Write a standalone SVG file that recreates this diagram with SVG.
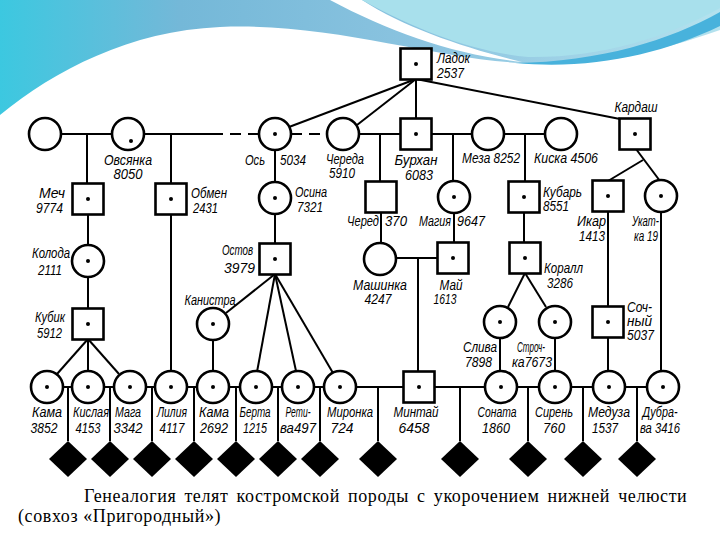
<svg xmlns="http://www.w3.org/2000/svg" width="720" height="540" viewBox="0 0 720 540">
<defs>
<linearGradient id="bgL" x1="0" y1="0" x2="1" y2="0">
<stop offset="0" stop-color="#3cc8e0"/>
<stop offset="0.25" stop-color="#74b8d8"/>
<stop offset="0.6" stop-color="#8cc4e0"/>
<stop offset="1" stop-color="#b4e2ee"/>
</linearGradient>
<style>
.n{fill:#fff;stroke:#000;stroke-width:2.6}
.d{fill:#000}
.c line,.c path{stroke:#000;stroke-width:2;fill:none}
.dash{stroke-dasharray:11 7}
.t{font-family:"Liberation Sans",Arial,sans-serif;font-style:italic;font-size:15px;fill:#000}
.m{text-anchor:middle}
.e{text-anchor:end}
.cap{font-family:"Liberation Serif","DejaVu Serif",serif;font-size:18px;letter-spacing:0.6px;fill:#000}
.dia{fill:#000}
</style>
</defs>
<rect width="720" height="540" fill="#fff"/>
<g id="banner">
<path d="M0,0 H720 V30 C650,55 585,66 520,63 C430,58 330,22 220,27 C130,31 55,70 0,115 Z" fill="url(#bgL)"/>
<path d="M330,0 C390,32 455,55 522,62 C465,48 405,28 362,0 Z" fill="#fff"/>
<path d="M362,0 C420,32 475,52 528,57 C600,58 665,38 720,8 V0 Z" fill="#a8e0ec"/>
<path d="M515,63 C600,62 670,40 720,12 V26 C660,55 590,70 515,63 Z" fill="#48b2dc"/>
</g>
<g id="connectors" class="c">
<line x1="61" y1="134" x2="112" y2="134"/>
<line x1="87" y1="134" x2="87" y2="184"/>
<line x1="144" y1="134" x2="212" y2="134"/>
<line x1="171" y1="134" x2="171" y2="372"/>
<line x1="212" y1="134" x2="259" y2="134" class="dash"/>
<line x1="291" y1="134" x2="327" y2="134" class="dash"/>
<line x1="359" y1="134" x2="401" y2="134"/>
<line x1="380" y1="134" x2="380" y2="182"/>
<line x1="431" y1="134" x2="472" y2="134"/>
<line x1="453" y1="134" x2="453" y2="182"/>
<line x1="504" y1="134" x2="545" y2="134"/>
<line x1="525" y1="134" x2="525" y2="182"/>
<line x1="416" y1="79" x2="289" y2="127"/>
<line x1="416" y1="79" x2="357" y2="125"/>
<line x1="416" y1="79" x2="416" y2="119"/>
<line x1="416" y1="79" x2="620" y2="119"/>
<line x1="636" y1="149" x2="660" y2="181"/>
<line x1="643" y1="160" x2="608" y2="181"/>
<line x1="275" y1="150" x2="275" y2="182"/>
<line x1="275" y1="214" x2="275" y2="244"/>
<line x1="88" y1="214" x2="88" y2="245"/>
<line x1="88" y1="277" x2="88" y2="309"/>
<line x1="381" y1="212" x2="381" y2="243"/>
<line x1="454" y1="213" x2="454" y2="243"/>
<line x1="396" y1="258" x2="438" y2="258"/>
<line x1="418" y1="258" x2="418" y2="372"/>
<line x1="524" y1="212" x2="524" y2="243"/>
<line x1="525" y1="273" x2="508" y2="307"/>
<line x1="525" y1="273" x2="546" y2="307"/>
<line x1="608" y1="211" x2="608" y2="307"/>
<line x1="608" y1="337" x2="608" y2="371"/>
<line x1="661" y1="212" x2="661" y2="371"/>
<line x1="88" y1="339" x2="57" y2="374"/>
<line x1="88" y1="339" x2="88" y2="371"/>
<line x1="88" y1="339" x2="119" y2="374"/>
<line x1="213" y1="340" x2="213" y2="371"/>
<line x1="275" y1="274" x2="226" y2="313"/>
<line x1="275" y1="274" x2="257" y2="372"/>
<line x1="275" y1="274" x2="296" y2="371"/>
<line x1="275" y1="274" x2="333" y2="373"/>
<line x1="500" y1="338" x2="500" y2="371"/>
<line x1="555" y1="338" x2="555" y2="371"/>
<line x1="63" y1="387" x2="647" y2="387"/>
<path d="M68,387V441 M110,387V441 M152,387V441 M194,387V441 M236,387V441 M278,387V441 M320,387V441 M378,387V441 M460,387V441 M528,387V441 M583,387V441 M637,387V441"/>
</g>
<g id="ladok"><rect class="n" x="400.5" y="48.5" width="31" height="31"/><circle class="d" cx="416" cy="64" r="2"/><text class="t" x="437" y="63" textLength="33" lengthAdjust="spacingAndGlyphs">Ладок</text><text class="t" x="437" y="78" textLength="27" lengthAdjust="spacingAndGlyphs">2537</text></g>
<g id="p1"><circle class="n" cx="45" cy="134" r="16"/></g>
<g id="ovsyanka"><circle class="n" cx="128" cy="134" r="16"/><circle class="d" cx="131" cy="141" r="2"/><text class="t m" x="128" y="165" textLength="48" lengthAdjust="spacingAndGlyphs">Овсянка</text><text class="t m" x="128" y="179" textLength="29" lengthAdjust="spacingAndGlyphs">8050</text></g>
<g id="os"><circle class="n" cx="275" cy="134" r="16"/><circle class="d" cx="275" cy="134" r="2"/><text class="t e" x="265" y="165" textLength="20" lengthAdjust="spacingAndGlyphs">Ось</text><text class="t" x="280" y="165" textLength="26" lengthAdjust="spacingAndGlyphs">5034</text></g>
<g id="chereda"><circle class="n" cx="343" cy="134" r="16"/><text class="t m" x="345" y="164" textLength="38" lengthAdjust="spacingAndGlyphs">Череда</text><text class="t m" x="342" y="178" textLength="26" lengthAdjust="spacingAndGlyphs">5910</text></g>
<g id="burkhan"><rect class="n" x="400.5" y="118.5" width="31" height="31"/><circle class="d" cx="416" cy="134" r="2"/><text class="t m" x="416" y="165" textLength="43" lengthAdjust="spacingAndGlyphs">Бурхан</text><text class="t m" x="419" y="180" textLength="28" lengthAdjust="spacingAndGlyphs">6083</text></g>
<g id="meza"><circle class="n" cx="488" cy="134" r="16"/><text class="t m" x="491" y="163" textLength="58" lengthAdjust="spacingAndGlyphs">Меза 8252</text></g>
<g id="kiska"><circle class="n" cx="561" cy="134" r="16"/><text class="t m" x="566" y="163" textLength="64" lengthAdjust="spacingAndGlyphs">Киска 4506</text></g>
<g id="kardash"><rect class="n" x="619.5" y="118.5" width="31" height="31"/><circle class="d" cx="635" cy="134" r="2"/><text class="t m" x="636" y="112" textLength="43" lengthAdjust="spacingAndGlyphs">Кардаш</text></g>
<g id="mech"><rect class="n" x="72.5" y="183.5" width="31" height="31"/><circle class="d" cx="88" cy="199" r="2"/><text class="t e" x="65" y="198" textLength="26" lengthAdjust="spacingAndGlyphs">Меч</text><text class="t e" x="63" y="213" textLength="27" lengthAdjust="spacingAndGlyphs">9774</text></g>
<g id="obmen"><rect class="n" x="155.5" y="183.5" width="31" height="31"/><circle class="d" cx="171" cy="199" r="2"/><text class="t" x="191" y="198" textLength="36" lengthAdjust="spacingAndGlyphs">Обмен</text><text class="t" x="193" y="213" textLength="25" lengthAdjust="spacingAndGlyphs">2431</text></g>
<g id="osina"><circle class="n" cx="275" cy="198" r="16"/><circle class="d" cx="275" cy="198" r="2"/><text class="t" x="295" y="197" textLength="32" lengthAdjust="spacingAndGlyphs">Осина</text><text class="t" x="297" y="212" textLength="26" lengthAdjust="spacingAndGlyphs">7321</text></g>
<g id="chered"><rect class="n" x="365.5" y="181.5" width="31" height="31"/><text class="t e" x="379" y="226" textLength="32" lengthAdjust="spacingAndGlyphs">Черед</text><text class="t" x="385" y="226" textLength="22" lengthAdjust="spacingAndGlyphs">370</text></g>
<g id="magiya"><circle class="n" cx="454" cy="197" r="16"/><circle class="d" cx="454" cy="197" r="2"/><text class="t e" x="451" y="226" textLength="32" lengthAdjust="spacingAndGlyphs">Магия</text><text class="t" x="457" y="226" textLength="28" lengthAdjust="spacingAndGlyphs">9647</text></g>
<g id="kubar"><rect class="n" x="508.5" y="181.5" width="31" height="31"/><circle class="d" cx="524" cy="197" r="2"/><text class="t" x="543" y="197" textLength="39" lengthAdjust="spacingAndGlyphs">Кубарь</text><text class="t" x="543" y="211" textLength="26" lengthAdjust="spacingAndGlyphs">8551</text></g>
<g id="ikar"><rect class="n" x="592.5" y="180.5" width="31" height="31"/><circle class="d" cx="608" cy="196" r="2"/><text class="t e" x="606" y="226" textLength="29" lengthAdjust="spacingAndGlyphs">Икар</text><text class="t e" x="605" y="241" textLength="26" lengthAdjust="spacingAndGlyphs">1413</text></g>
<g id="ukatka"><circle class="n" cx="661" cy="196" r="16"/><circle class="d" cx="661" cy="196" r="2"/><text class="t e" x="659" y="226" textLength="27" lengthAdjust="spacingAndGlyphs">Укат-</text><text class="t e" x="658" y="241" textLength="24" lengthAdjust="spacingAndGlyphs">ка 19</text></g>
<g id="koloda"><circle class="n" cx="88" cy="261" r="16"/><circle class="d" cx="88" cy="261" r="2"/><text class="t e" x="70" y="258" textLength="38" lengthAdjust="spacingAndGlyphs">Колода</text><text class="t e" x="62" y="275" textLength="24" lengthAdjust="spacingAndGlyphs">2111</text></g>
<g id="ostov"><rect class="n" x="259.5" y="243.5" width="31" height="31"/><circle class="d" cx="275" cy="259" r="2"/><text class="t e" x="253" y="255" textLength="31" lengthAdjust="spacingAndGlyphs">Остов</text><text class="t e" x="255" y="273" textLength="31" lengthAdjust="spacingAndGlyphs">3979</text></g>
<g id="mashinka"><circle class="n" cx="380" cy="259" r="16"/><text class="t m" x="380" y="290" textLength="54" lengthAdjust="spacingAndGlyphs">Машинка</text><text class="t m" x="378" y="304" textLength="27" lengthAdjust="spacingAndGlyphs">4247</text></g>
<g id="may"><rect class="n" x="437.5" y="242.5" width="31" height="31"/><circle class="d" cx="453" cy="258" r="2"/><text class="t m" x="451" y="290" textLength="23" lengthAdjust="spacingAndGlyphs">Май</text><text class="t m" x="445" y="304" textLength="23" lengthAdjust="spacingAndGlyphs">1613</text></g>
<g id="korall"><rect class="n" x="509.5" y="242.5" width="31" height="31"/><circle class="d" cx="525" cy="258" r="2"/><text class="t" x="544" y="273" textLength="39" lengthAdjust="spacingAndGlyphs">Коралл</text><text class="t" x="547" y="288" textLength="26" lengthAdjust="spacingAndGlyphs">3286</text></g>
<g id="kubik"><rect class="n" x="72.5" y="308.5" width="31" height="31"/><circle class="d" cx="88" cy="324" r="2"/><text class="t e" x="65" y="322" textLength="30" lengthAdjust="spacingAndGlyphs">Кубик</text><text class="t e" x="62" y="338" textLength="25" lengthAdjust="spacingAndGlyphs">5912</text></g>
<g id="kanistra"><circle class="n" cx="213" cy="324" r="16"/><circle class="d" cx="213" cy="324" r="2"/><text class="t m" x="210" y="305" textLength="51" lengthAdjust="spacingAndGlyphs">Канистра</text></g>
<g id="sliva"><circle class="n" cx="500" cy="322" r="16"/><circle class="d" cx="500" cy="322" r="2"/><text class="t e" x="497" y="352" textLength="34" lengthAdjust="spacingAndGlyphs">Слива</text><text class="t e" x="492" y="367" textLength="27" lengthAdjust="spacingAndGlyphs">7898</text></g>
<g id="strochka"><circle class="n" cx="555" cy="322" r="16"/><circle class="d" cx="555" cy="322" r="2"/><text class="t" x="517" y="352" textLength="28" lengthAdjust="spacingAndGlyphs">Строч-</text><text class="t" x="512" y="367" textLength="40" lengthAdjust="spacingAndGlyphs">ка7673</text></g>
<g id="sochny"><rect class="n" x="592.5" y="306.5" width="31" height="31"/><circle class="d" cx="608" cy="322" r="2"/><text class="t" x="627" y="312" textLength="25" lengthAdjust="spacingAndGlyphs">Соч-</text><text class="t" x="627" y="326" textLength="25" lengthAdjust="spacingAndGlyphs">ный</text><text class="t" x="627" y="340" textLength="27" lengthAdjust="spacingAndGlyphs">5037</text></g>
<g id="kama1"><circle class="n" cx="47" cy="387" r="16"/><circle class="d" cx="47" cy="387" r="2"/><text class="t m" x="47" y="417" textLength="30" lengthAdjust="spacingAndGlyphs">Кама</text><text class="t m" x="44" y="433" textLength="27" lengthAdjust="spacingAndGlyphs">3852</text></g>
<g id="kislaya"><circle class="n" cx="88" cy="387" r="16"/><circle class="d" cx="88" cy="387" r="2"/><text class="t m" x="91" y="417" textLength="36" lengthAdjust="spacingAndGlyphs">Кислая</text><text class="t m" x="88" y="433" textLength="25" lengthAdjust="spacingAndGlyphs">4153</text></g>
<g id="maga"><circle class="n" cx="130" cy="387" r="16"/><circle class="d" cx="130" cy="387" r="2"/><text class="t m" x="128" y="417" textLength="26" lengthAdjust="spacingAndGlyphs">Мага</text><text class="t m" x="128" y="433" textLength="29" lengthAdjust="spacingAndGlyphs">3342</text></g>
<g id="liliya"><circle class="n" cx="171" cy="387" r="16"/><circle class="d" cx="171" cy="387" r="2"/><text class="t m" x="172" y="417" textLength="30" lengthAdjust="spacingAndGlyphs">Лилия</text><text class="t m" x="172" y="433" textLength="25" lengthAdjust="spacingAndGlyphs">4117</text></g>
<g id="kama2"><circle class="n" cx="213" cy="387" r="16"/><circle class="d" cx="213" cy="387" r="2"/><text class="t m" x="214" y="417" textLength="30" lengthAdjust="spacingAndGlyphs">Кама</text><text class="t m" x="214" y="433" textLength="28" lengthAdjust="spacingAndGlyphs">2692</text></g>
<g id="berta"><circle class="n" cx="256" cy="387" r="16"/><circle class="d" cx="256" cy="387" r="2"/><text class="t m" x="255" y="417" textLength="31" lengthAdjust="spacingAndGlyphs">Берта</text><text class="t m" x="255" y="433" textLength="24" lengthAdjust="spacingAndGlyphs">1215</text></g>
<g id="retiva"><circle class="n" cx="298" cy="387" r="16"/><circle class="d" cx="298" cy="387" r="2"/><text class="t m" x="298" y="417" textLength="25" lengthAdjust="spacingAndGlyphs">Рети-</text><text class="t m" x="298" y="433" textLength="36" lengthAdjust="spacingAndGlyphs">ва497</text></g>
<g id="mironka"><circle class="n" cx="340" cy="387" r="16"/><circle class="d" cx="340" cy="387" r="2"/><text class="t m" x="350" y="417" textLength="46" lengthAdjust="spacingAndGlyphs">Миронка</text><text class="t m" x="342" y="433" textLength="23" lengthAdjust="spacingAndGlyphs">724</text></g>
<g id="mintay"><rect class="n" x="403.5" y="371.5" width="31" height="31"/><circle class="d" cx="419" cy="387" r="2"/><text class="t m" x="416" y="417" textLength="45" lengthAdjust="spacingAndGlyphs">Минтай</text><text class="t m" x="414" y="433" textLength="31" lengthAdjust="spacingAndGlyphs">6458</text></g>
<g id="sonata"><circle class="n" cx="501" cy="387" r="16"/><circle class="d" cx="501" cy="387" r="2"/><text class="t m" x="497" y="417" textLength="39" lengthAdjust="spacingAndGlyphs">Соната</text><text class="t m" x="496" y="433" textLength="28" lengthAdjust="spacingAndGlyphs">1860</text></g>
<g id="siren"><circle class="n" cx="555" cy="387" r="16"/><circle class="d" cx="555" cy="387" r="2"/><text class="t m" x="554" y="417" textLength="38" lengthAdjust="spacingAndGlyphs">Сирень</text><text class="t m" x="554" y="433" textLength="22" lengthAdjust="spacingAndGlyphs">760</text></g>
<g id="meduza"><circle class="n" cx="609" cy="387" r="16"/><circle class="d" cx="609" cy="387" r="2"/><text class="t m" x="609" y="417" textLength="42" lengthAdjust="spacingAndGlyphs">Медуза</text><text class="t m" x="605" y="433" textLength="26" lengthAdjust="spacingAndGlyphs">1537</text></g>
<g id="dubrava"><circle class="n" cx="663" cy="387" r="16"/><circle class="d" cx="663" cy="387" r="2"/><text class="t m" x="660" y="417" textLength="35" lengthAdjust="spacingAndGlyphs">Дубра-</text><text class="t m" x="660" y="433" textLength="40" lengthAdjust="spacingAndGlyphs">ва 3416</text></g>
<g id="offspring">
<path class="dia" d="M68,441 l19,18 l-19,18 l-19,-18 Z"/>
<path class="dia" d="M110,441 l19,18 l-19,18 l-19,-18 Z"/>
<path class="dia" d="M152,441 l19,18 l-19,18 l-19,-18 Z"/>
<path class="dia" d="M194,441 l19,18 l-19,18 l-19,-18 Z"/>
<path class="dia" d="M236,441 l19,18 l-19,18 l-19,-18 Z"/>
<path class="dia" d="M278,441 l19,18 l-19,18 l-19,-18 Z"/>
<path class="dia" d="M320,441 l19,18 l-19,18 l-19,-18 Z"/>
<path class="dia" d="M378,441 l19,18 l-19,18 l-19,-18 Z"/>
<path class="dia" d="M460,441 l19,18 l-19,18 l-19,-18 Z"/>
<path class="dia" d="M528,441 l19,18 l-19,18 l-19,-18 Z"/>
<path class="dia" d="M583,441 l19,18 l-19,18 l-19,-18 Z"/>
<path class="dia" d="M637,441 l19,18 l-19,18 l-19,-18 Z"/>
</g>
<g id="caption">
<text class="cap" x="84" y="502" word-spacing="3">Генеалогия телят костромской породы с укорочением нижней челюсти</text>
<text class="cap" x="18" y="522">(совхоз «Пригородный»)</text>
</g>
</svg>
